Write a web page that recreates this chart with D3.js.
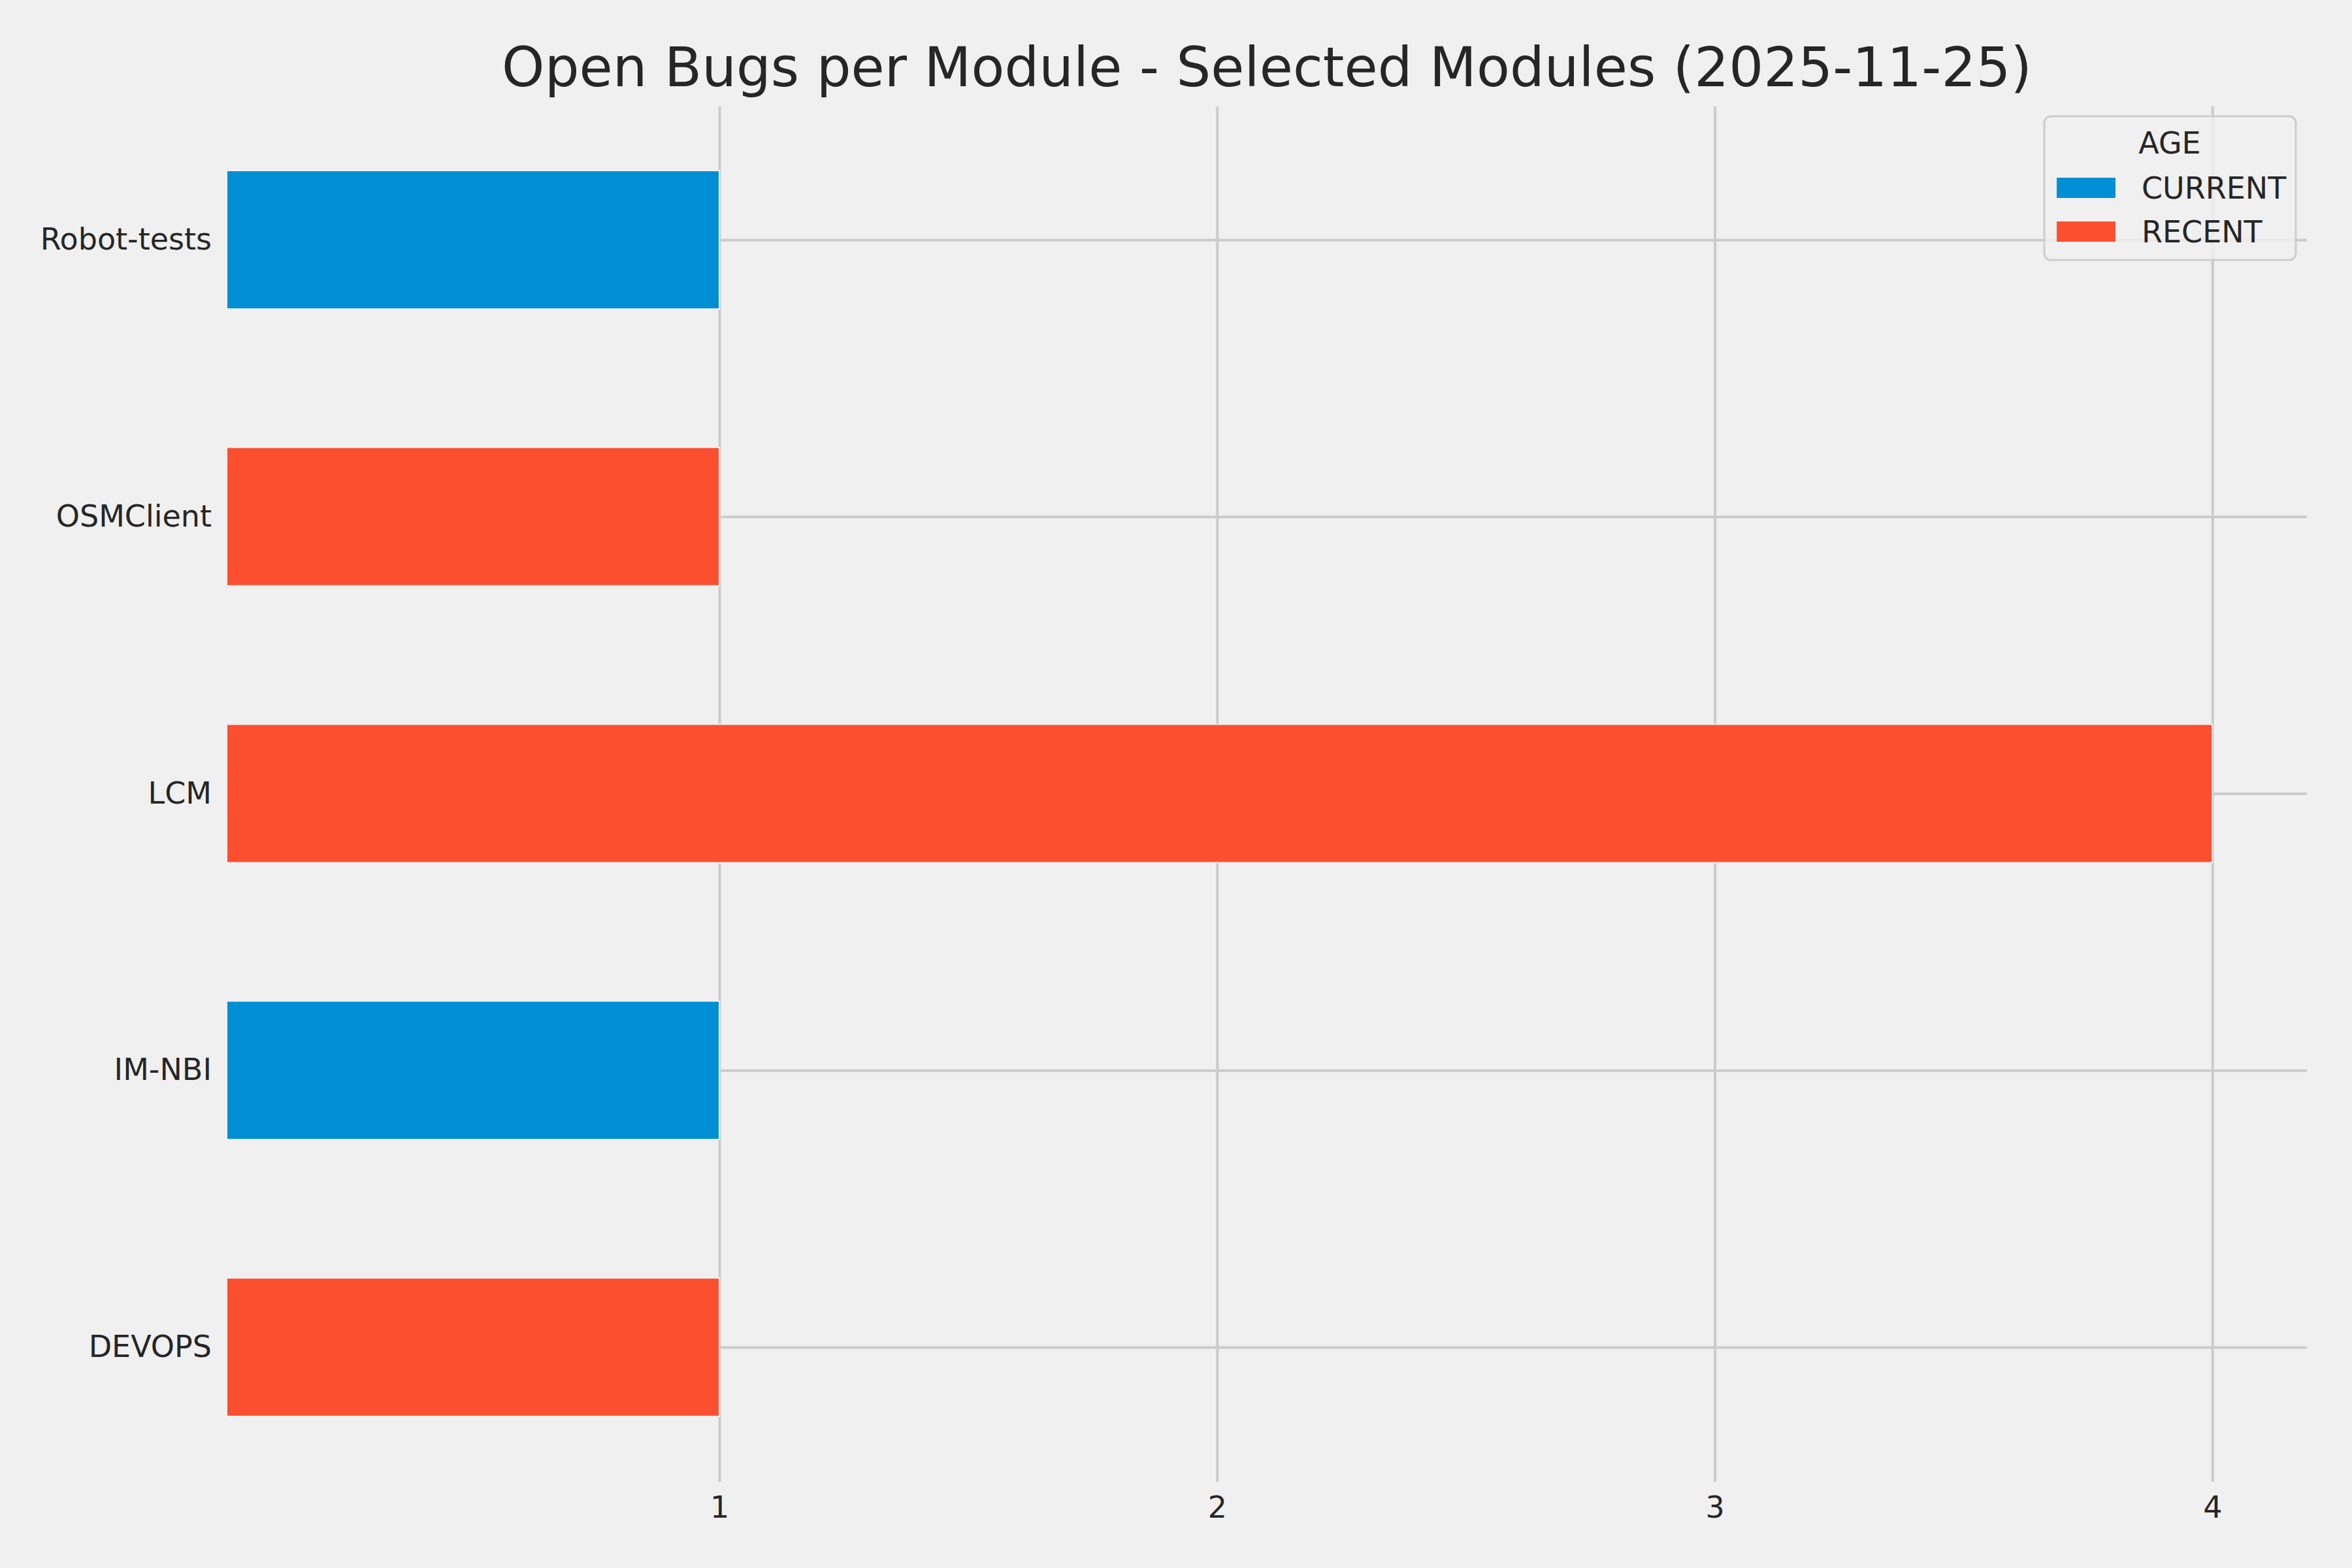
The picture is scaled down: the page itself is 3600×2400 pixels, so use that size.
<!DOCTYPE html>
<html>
<head>
<meta charset="utf-8">
<script src="https://cdn.jsdelivr.net/npm/d3@7"></script>
<style>
  html, body { margin: 0; padding: 0; background: #f0f0f0; }
  svg { display: block; }
  text { font-family: "DejaVu Sans", sans-serif; fill: #262626; }
</style>
</head>
<body>
<script>
// ---- data ----
const modules = ["Robot-tests", "OSMClient", "LCM", "IM-NBI", "DEVOPS"]; // top to bottom
const series = ["CURRENT", "RECENT"];
const currentValues = [1, 0, 0, 1, 0];
const recentValues  = [0, 1, 4, 0, 1];
const xTicks = [1, 2, 3, 4];
const colors = ["#008fd5", "#fc4f30"];
const titleText = "Open Bugs per Module - Selected Modules (2025-11-25)";
const legendTitle = "AGE";

(function () {
const W = 3600, H = 2400;
const pLeft = 347, pRight = 3531, pTop = 163, pBottom = 2268;

const svg = d3.select("body").append("svg").attr("width", W).attr("height", H);
svg.append("rect").attr("width", W).attr("height", H).attr("fill", "#f0f0f0");

const x = d3.scaleLinear().domain([0.01, 4.19]).range([pLeft, pRight]);
const y = d3.scalePoint().domain(modules).range([367, 2062]);
const barH = y.step() * 0.5;

// gridlines
const gx = svg.append("g").attr("transform", `translate(0,${pBottom})`)
  .call(d3.axisBottom(x).tickValues(xTicks).tickFormat(d3.format("d"))
    .tickSize(-(pBottom - pTop)).tickPadding(22));
gx.select(".domain").remove();
gx.selectAll("line").attr("stroke", "#cbcbcb").attr("stroke-width", 4);
gx.selectAll("text").attr("font-size", 46).attr("fill", "#262626")
  .attr("font-family", "DejaVu Sans");

const gy = svg.append("g").attr("transform", `translate(${pLeft},0)`)
  .call(d3.axisLeft(y).tickSize(-(pRight - pLeft)).tickPadding(23));
gy.select(".domain").remove();
gy.selectAll("line").attr("stroke", "#cbcbcb").attr("stroke-width", 4);
gy.selectAll("text").attr("font-size", 46).attr("fill", "#262626")
  .attr("font-family", "DejaVu Sans");

// stacked bars
const rows = modules.map((m, i) => ({ module: m, CURRENT: currentValues[i], RECENT: recentValues[i] }));
const stacked = d3.stack().keys(series)(rows);
const bars = svg.append("g");
stacked.forEach((layer, si) => {
  bars.selectAll(null).data(layer.filter(d => d[1] - d[0] > 0)).enter().append("rect")
    .attr("x", d => x(Math.max(d[0], 0.01)))
    .attr("width", d => x(d[1]) - x(Math.max(d[0], 0.01)))
    .attr("y", d => y(d.data.module) - barH / 2)
    .attr("height", barH)
    .attr("fill", colors[si])
    .attr("stroke", "#f0f0f0").attr("stroke-width", 2);
});

// title
svg.append("text").attr("x", (pLeft + pRight) / 2).attr("y", 132)
  .attr("text-anchor", "middle").attr("font-size", 83.3).text(titleText);

// legend
const lg = svg.append("g");
lg.append("rect").attr("x", 3129).attr("y", 178).attr("width", 385).attr("height", 220)
  .attr("rx", 10).attr("fill", "#f0f0f0").attr("fill-opacity", 0.8)
  .attr("stroke", "#cccccc").attr("stroke-width", 3);
lg.append("text").attr("x", 3321).attr("y", 235).attr("text-anchor", "middle")
  .attr("font-size", 46).text(legendTitle);
series.forEach((s, i) => {
  const yy = 272 + i * 67;
  lg.append("rect").attr("x", 3148).attr("y", yy).attr("width", 90).attr("height", 31)
    .attr("fill", colors[i]);
  lg.append("text").attr("x", 3278).attr("y", yy + 32).attr("font-size", 46).text(s);
});
})();
</script>
</body>
</html>
